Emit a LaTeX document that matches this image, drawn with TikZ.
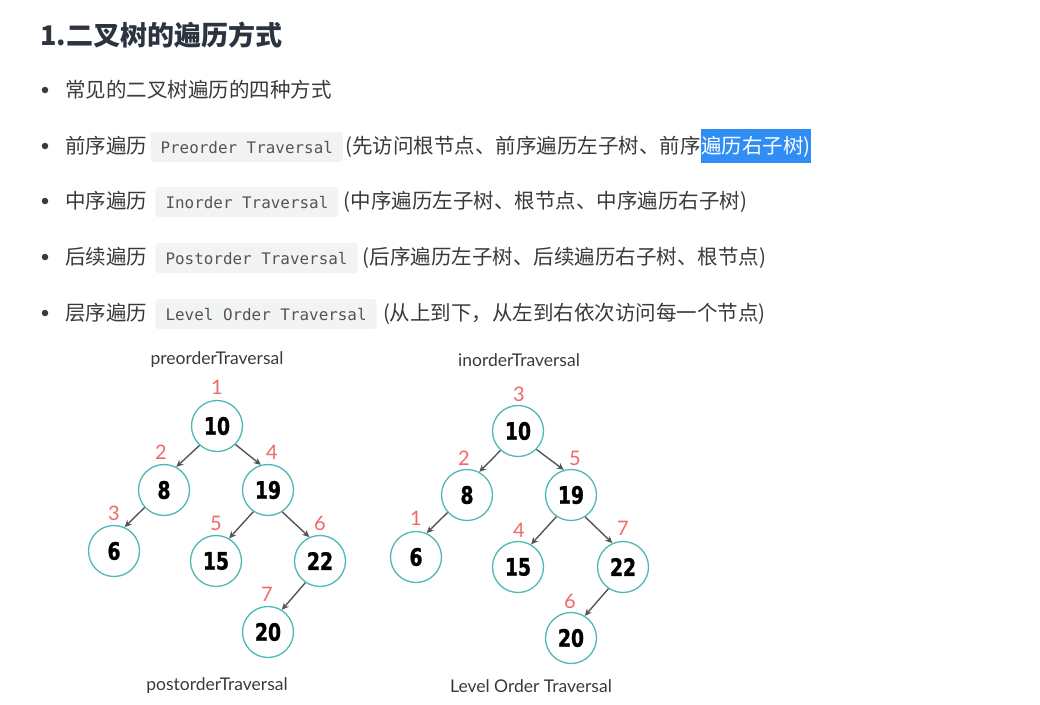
\documentclass[tikz,border=0pt]{standalone}
\usepackage{fontspec}
\usetikzlibrary{arrows.meta}
\setmainfont{Noto Sans CJK SC}
\newfontfamily\cjk{Noto Sans CJK SC}
\newfontfamily\codefont{DejaVu Sans Mono}
\newfontfamily\labfont{Lato}
\newfontfamily\numfont{DejaVu Sans}[FakeStretch=0.78, FakeBold=1.2]
\definecolor{txtc}{HTML}{3A3A3A}
\definecolor{titc}{HTML}{2C3440}
\definecolor{codebg}{HTML}{F2F3F4}
\definecolor{codec}{HTML}{555555}
\definecolor{hlblue}{HTML}{2F8DF5}
\definecolor{tealc}{HTML}{4DB8B6}
\definecolor{redn}{HTML}{F26868}
\definecolor{arrc}{HTML}{555555}
\tikzset{
  txt/.style={font=\cjk\fontsize{20.5}{24}\selectfont, text=txtc, inner sep=0pt, anchor=base west},
  titletxt/.style={font=\cjk\bfseries\fontsize{27}{30}\selectfont, text=titc, inner sep=0pt, anchor=base west},
  code/.style={font=\codefont\fontsize{15.9}{18}\selectfont, text=codec, fill=codebg, rounded corners=3pt, inner xsep=10pt, inner ysep=7pt, text height=14pt, text depth=2pt, anchor=base west},
  hl/.style={txt, fill=hlblue, text=white, inner xsep=0pt, inner ysep=6pt, text height=18pt, text depth=4pt},
  bulletdot/.style={circle, fill=txtc, minimum size=6.5pt, inner sep=0pt},
  tnode/.style={circle, draw=tealc, fill=white, line width=1.3pt, minimum size=51pt, inner sep=0pt, text=black, font=\numfont\bfseries\fontsize{24}{26}\selectfont},
  ord/.style={font=\labfont\fontsize{20}{22}\selectfont, text=redn, inner sep=0pt},
  tlab/.style={font=\labfont\fontsize{17.5}{20}\selectfont, text=txtc, inner sep=0pt},
  tarrow/.style={draw=arrc, line width=1.4pt, -{Stealth[length=7pt,width=6.5pt]}}
}
\begin{document}
\begin{tikzpicture}[x=1pt,y=-1pt]
\useasboundingbox[fill=white] (0,0) rectangle (1040,704);
% title
\node[titletxt] (title) at (40,45) {1.二叉树的遍历方式};
% line 1
\node[bulletdot] (b1) at (45,90) {};
\node[txt] (l1a) at (65,97) {常见的二叉树遍历的四种方式};
% line 2
\node[bulletdot] (b2) at (45,146) {};
\node[txt] (l2a) at (65,153) {前序遍历};
\node[code] (l2b) at ([xshift=3pt]l2a.base east) {Preorder Traversal};
\node[txt] (l2c) at ([xshift=2pt]l2b.base east) {(先访问根节点、前序遍历左子树、前序};
\node[hl] (l2d) at (l2c.base east) {遍历右子树)};
% line 3
\node[bulletdot] (b3) at (45,201) {};
\node[txt] (l3a) at (65,208) {中序遍历};
\node[code] (l3b) at ([xshift=8pt]l3a.base east) {Inorder Traversal};
\node[txt] (l3c) at ([xshift=5pt]l3b.base east) {(中序遍历左子树、根节点、中序遍历右子树)};
% line 4
\node[bulletdot] (b4) at (45,257) {};
\node[txt] (l4a) at (65,264) {后续遍历};
\node[code] (l4b) at ([xshift=8pt]l4a.base east) {Postorder Traversal};
\node[txt] (l4c) at ([xshift=5pt]l4b.base east) {(后序遍历左子树、后续遍历右子树、根节点)};
% line 5
\node[bulletdot] (b5) at (45,313) {};
\node[txt] (l5a) at (65,320) {层序遍历};
\node[code] (l5b) at ([xshift=8pt]l5a.base east) {Level Order Traversal};
\node[txt] (l5c) at ([xshift=6pt]l5b.base east) {(从上到下，从左到右依次访问每一个节点)};

% left tree
\node[tlab] (plab) at (217,360) {preorderTraversal};
\node[tnode] (p10) at (217,426) {10};
\node[tnode] (p8) at (164,490) {8};
\node[tnode] (p19) at (268,490) {19};
\node[tnode] (p6) at (114,551) {6};
\node[tnode] (p15) at (216,561) {15};
\node[tnode] (p22) at (320,561) {22};
\node[tnode] (p20) at (268,632) {20};
\node[ord] (po1) at (217,387) {1};
\node[ord] (po2) at (161,452) {2};
\node[ord] (po4) at (272,452) {4};
\node[ord] (po3) at (114,513) {3};
\node[ord] (po5) at (216,523) {5};
\node[ord] (po6) at (320,523) {6};
\node[ord] (po7) at (267,594) {7};
\draw[tarrow] (p10.-132) -- (p8.62);
\draw[tarrow] (p10.-45) -- (p19.106);
\draw[tarrow] (p8.-138) -- (p6.66);
\draw[tarrow] (p19.-124) -- (p15.60);
\draw[tarrow] (p19.-57) -- (p22.114);
\draw[tarrow] (p22.-124) -- (p20.58);
\node[tlab] (postlab) at (217,686) {postorderTraversal};

% right tree
\node[tlab] (ilab) at (519,360) {inorderTraversal};
\node[tnode] (i10) at (518,431) {10};
\node[tnode] (i8) at (467,495) {8};
\node[tnode] (i19) at (571,495) {19};
\node[tnode] (i6) at (416,557) {6};
\node[tnode] (i15) at (518,567) {15};
\node[tnode] (i22) at (623,567) {22};
\node[tnode] (i20) at (571,638) {20};
\node[ord] (io3) at (519,394) {3};
\node[ord] (io2) at (464,458) {2};
\node[ord] (io5) at (575,458) {5};
\node[ord] (io1) at (416,518) {1};
\node[ord] (io4) at (519,530) {4};
\node[ord] (io7) at (623,528) {7};
\node[ord] (io6) at (570,601) {6};
\draw[tarrow] (i10.-132) -- (i8.62);
\draw[tarrow] (i10.-45) -- (i19.106);
\draw[tarrow] (i8.-138) -- (i6.66);
\draw[tarrow] (i19.-124) -- (i15.60);
\draw[tarrow] (i19.-57) -- (i22.114);
\draw[tarrow] (i22.-124) -- (i20.58);
\node[tlab] (levlab) at (531,686) {Level Order Traversal};
\end{tikzpicture}
\end{document}
